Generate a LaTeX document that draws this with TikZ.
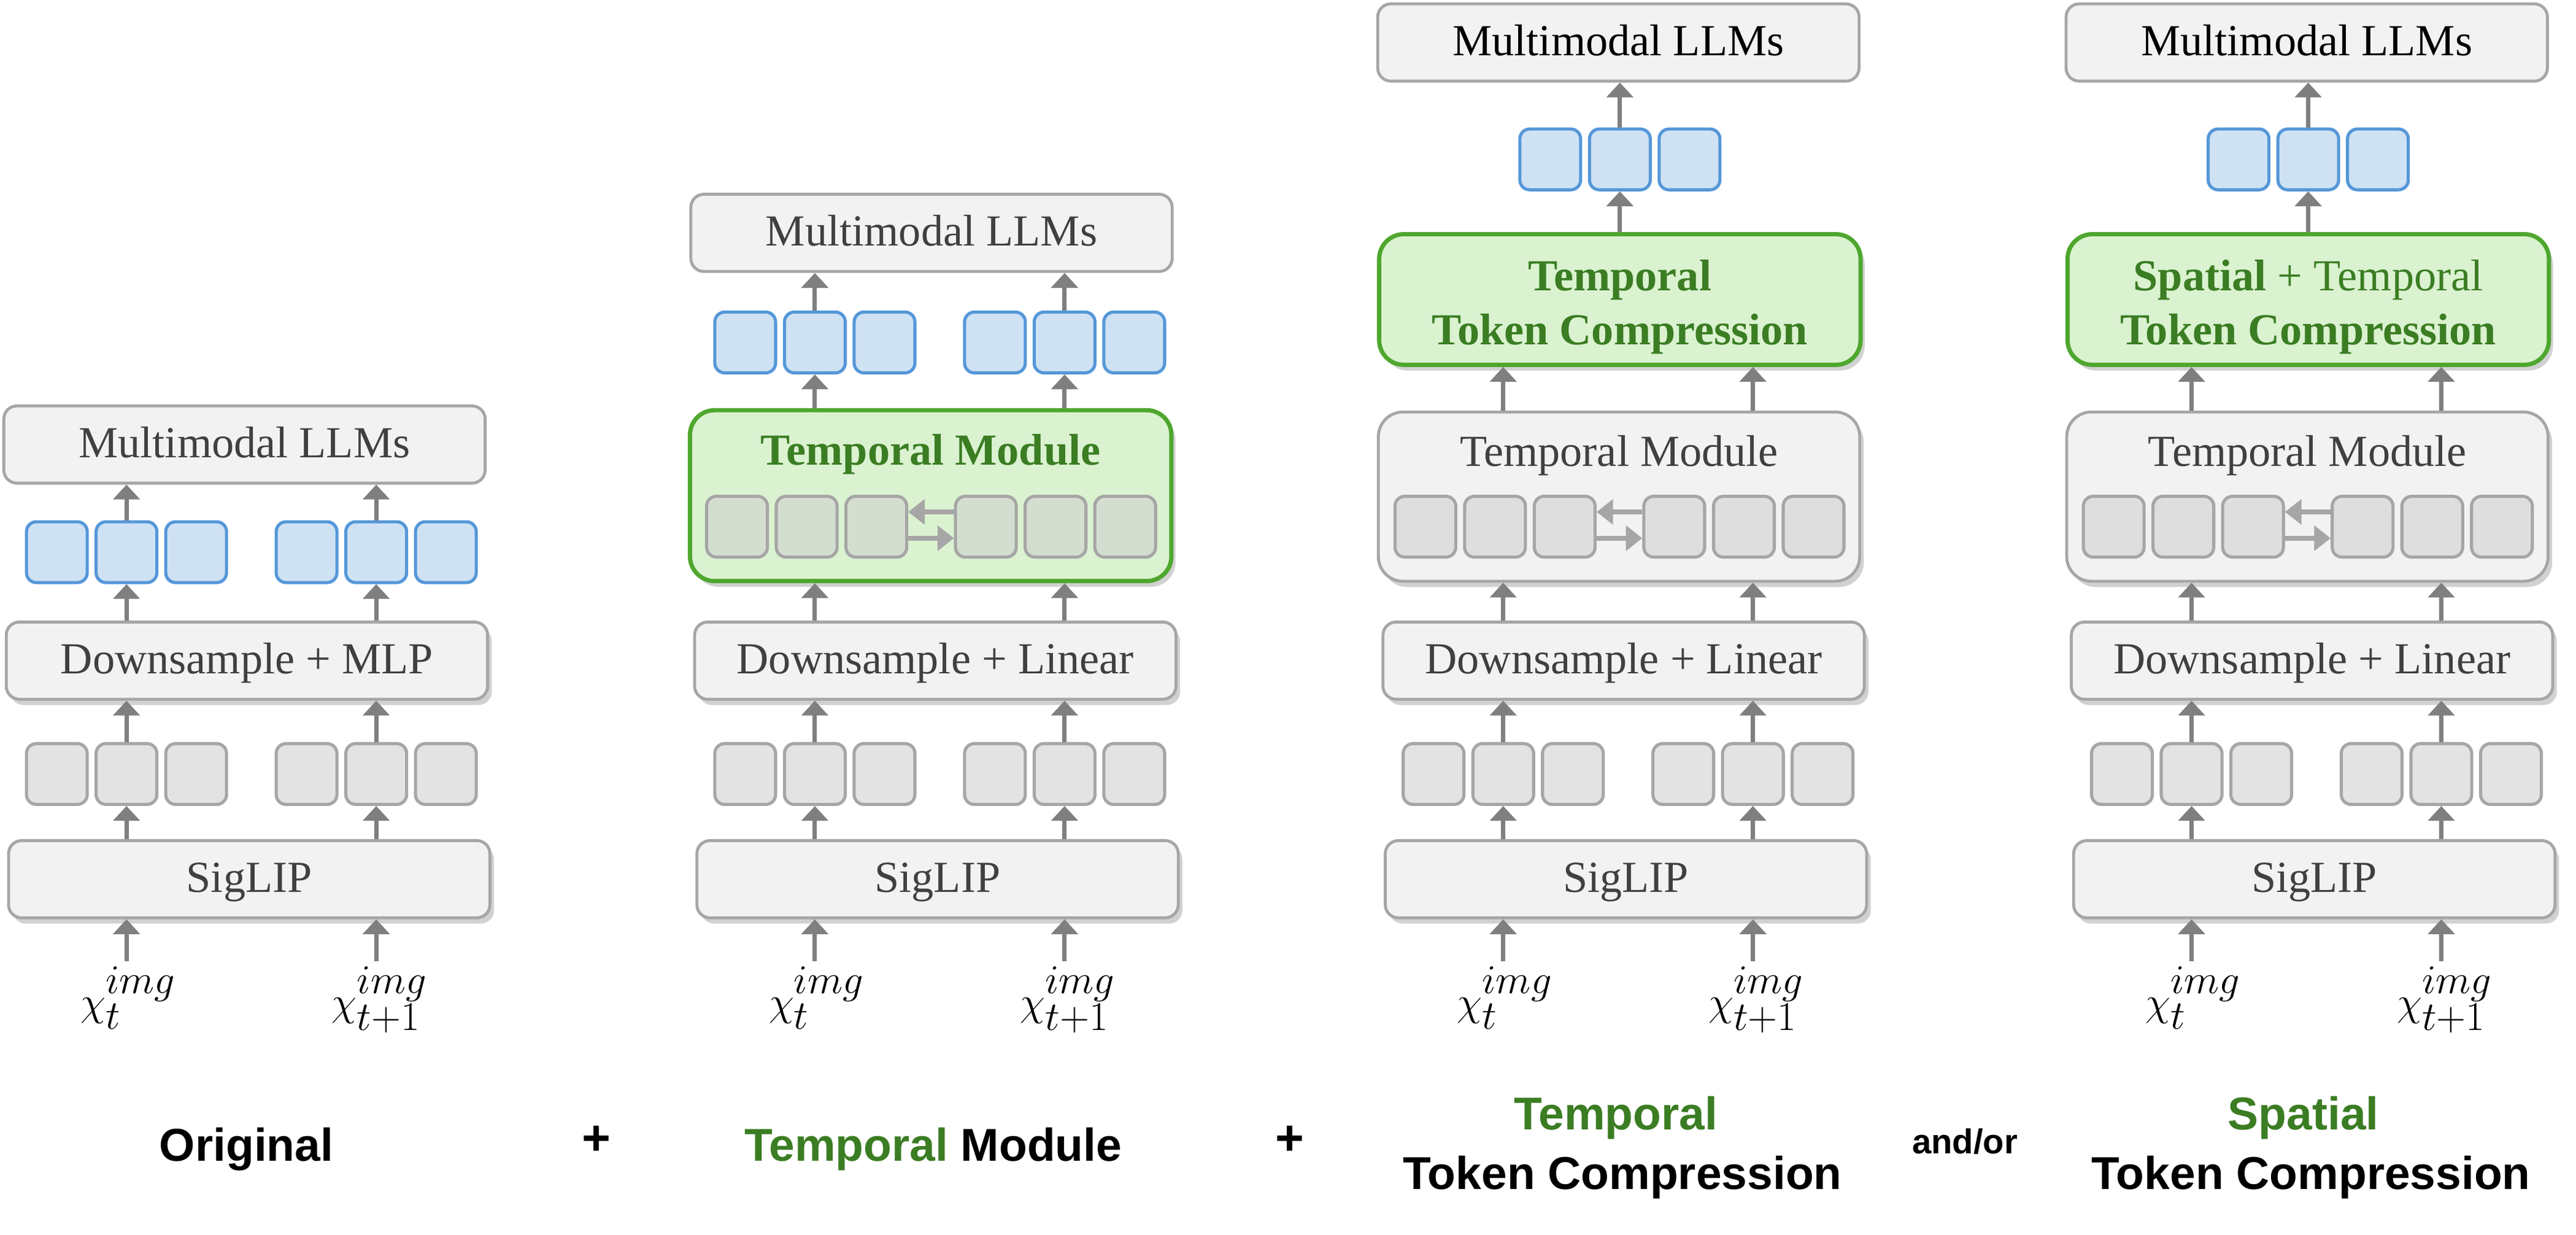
\documentclass[tikz,border=0pt]{standalone}
\usepackage{fontspec}
\setmainfont{Liberation Serif}
\newfontfamily\tagfont{Liberation Sans}
\usetikzlibrary{arrows.meta,shadows}

\definecolor{boxgray}{HTML}{F2F2F2}
\definecolor{edgegray}{HTML}{A6A6A6}
\definecolor{txtgray}{HTML}{404040}
\definecolor{arrgray}{HTML}{7F7F7F}
\definecolor{tokgray}{HTML}{D1D1D1}
\definecolor{tokblue}{HTML}{CFE2F3}
\definecolor{edgeblue}{HTML}{5597D9}
\definecolor{modgreen}{HTML}{DAF2D0}
\definecolor{edgegreen}{HTML}{4EA72E}
\definecolor{txtgreen}{HTML}{3B7D23}

\begin{document}
\begin{tikzpicture}[
  x=1pt, y=-1pt,
  block/.style={draw=edgegray, line width=1.8pt, fill=boxgray, rounded corners=8pt,
    minimum width=293pt, minimum height=47pt, inner sep=0pt, text=txtgray,
    font=\fontsize{27}{33}\selectfont, text height=19pt, text depth=3pt},
  modbox/.style={block, rounded corners=15pt},
  greenbox/.style={modbox, draw=edgegreen, fill=modgreen, line width=2.6pt},
  lift/.style={drop shadow={shadow xshift=2.5pt, shadow yshift=-3.5pt, opacity=0.3, fill=black!60}},
  tok/.style={draw=edgegray, line width=1.9pt, fill=tokgray, fill opacity=0.6,
    rounded corners=6pt, minimum width=37pt, minimum height=37pt, inner sep=0pt},
  btok/.style={tok, draw=edgeblue, fill=tokblue, fill opacity=1},
  flow/.style={draw=arrgray, line width=2.6pt, -{Triangle[width=16pt, length=9pt]}},
  xchg/.style={draw=edgegray, line width=3.2pt, -{Triangle[width=15pt, length=10pt]}},
  word/.style={anchor=base, inner sep=0pt, font=\fontsize{27}{33}\selectfont},
  wordb/.style={word, font=\fontsize{27}{33}\selectfont\bfseries},
  inp/.style={anchor=north, inner sep=0pt, font=\fontsize{36}{40}\selectfont},
  tag/.style={anchor=base, inner sep=0pt, font=\tagfont\bfseries\fontsize{28}{34}\selectfont}
]
  \useasboundingbox (0,0) rectangle (1568,751.5);

  % Column spacing
  \def\gap{419}

  % Lower part, same in all columns: SigLIP, patch tokens, projector
  \foreach \k/\proj in {1/MLP, 2/Linear, 3/Linear, 4/Linear} {
    \pgfmathsetmacro{\cx}{77+\gap*(\k-1)}
    \node[block, lift] (sig\k) at (\cx+74.7, 535) {SigLIP};
    \node[block, lift] (ds\k) at (\cx+73.3, 402) {Downsample + \proj};
    \foreach \i/\dx in {1/-42.4, 2/0, 3/42.4, 4/109.6, 5/152, 6/194.4}
      \node[tok] (g\k\i) at ({\cx+\dx}, 471) {};
    \node[inp] (xa\k) at (\cx+1, 588) {$\chi_t^{img}$};
    \node[inp] (xb\k) at (\cx+154, 588) {$\chi_{t+1}^{img}$};
    % inputs -> SigLIP -> tokens -> projector
    \draw[flow, shorten <=3pt] (xa\k.north -| g\k2) -- (g\k2 |- sig\k.south);
    \draw[flow, shorten <=3pt] (xb\k.north -| g\k5) -- (g\k5 |- sig\k.south);
    \draw[flow] (sig\k.north -| g\k2) -- (g\k2.south);
    \draw[flow] (sig\k.north -| g\k5) -- (g\k5.south);
    \draw[flow] (g\k2.north) -- (g\k2 |- ds\k.south);
    \draw[flow] (g\k5.north) -- (g\k5 |- ds\k.south);
  }

  % Column 1: original
  \foreach \i/\dx in {1/-42.4, 2/0, 3/42.4, 4/109.6, 5/152, 6/194.4}
    \node[btok] (u1\i) at ({77+\dx}, 336) {};
  \node[block] (llm1) at (148.8, 270.5) {Multimodal LLMs};
  \draw[flow] (ds1.north -| u12) -- (u12.south);
  \draw[flow] (ds1.north -| u15) -- (u15.south);
  \draw[flow] (u12.north) -- (u12 |- llm1.south);
  \draw[flow] (u15.north) -- (u15 |- llm1.south);

  % Column 2: + temporal module
  \node[greenbox, lift, minimum height=104pt] (tm2) at (566.5, 301.6) {};
  \node[wordb, text=txtgreen] (tmt2) at (566.5, 283) {Temporal Module};
  \foreach \i/\dx in {1/-47.4, 2/-5, 3/37.4, 4/104.1, 5/146.5, 6/188.9}
    \node[tok] (i2\i) at ({496+\dx}, 320.5) {};
  \draw[xchg] ([yshift=9pt]i24.west) -- ([yshift=9pt]i23.east);
  \draw[xchg] ([yshift=-7pt]i23.east) -- ([yshift=-7pt]i24.west);
  \foreach \i/\dx in {1/-42.4, 2/0, 3/42.4, 4/109.6, 5/152, 6/194.4}
    \node[btok] (u2\i) at ({496+\dx}, 208.4) {};
  \node[block] (llm2) at (567, 141.7) {Multimodal LLMs};
  \draw[flow] (ds2.north -| g22) -- (g22 |- tm2.south);
  \draw[flow] (ds2.north -| g25) -- (g25 |- tm2.south);
  \draw[flow] (tm2.north -| u22) -- (u22.south);
  \draw[flow] (tm2.north -| u25) -- (u25.south);
  \draw[flow] (u22.north) -- (u22 |- llm2.south);
  \draw[flow] (u25.north) -- (u25 |- llm2.south);

  % Columns 3 and 4: + token compression
  \foreach \k/\cx/\head in {3/915/{\textbf{Temporal}}, 4/1334/{\textbf{Spatial} + Temporal}} {
    \node[modbox, lift, minimum height=103pt] (tm\k) at (\cx+70.5, 302.2) {};
    \node[word, text=txtgray] (tmt\k) at (\cx+70.5, 283.5) {Temporal Module};
    \foreach \i/\dx in {1/-47.4, 2/-5, 3/37.4, 4/104.1, 5/146.5, 6/188.9}
      \node[tok] (i\k\i) at ({\cx+\dx}, 320.5) {};
    \draw[xchg] ([yshift=9pt]i\k4.west) -- ([yshift=9pt]i\k3.east);
    \draw[xchg] ([yshift=-7pt]i\k3.east) -- ([yshift=-7pt]i\k4.west);
    \node[greenbox, lift, minimum height=79.5pt] (tc\k) at (\cx+71, 182.25) {};
    \node[word, text=txtgreen] (tca\k) at (\cx+71, 176.7) {\head};
    \node[wordb, text=txtgreen] (tcb\k) at (\cx+71, 209.6) {Token Compression};
    \foreach \i/\dx in {1/-42.4, 2/0, 3/42.4}
      \node[btok] (u\k\i) at ({\cx+71+\dx}, 97) {};
    \node[block, text=black] (llm\k) at (\cx+70.1, 25.85) {Multimodal LLMs};
    \draw[flow] (ds\k.north -| g\k2) -- (g\k2 |- tm\k.south);
    \draw[flow] (ds\k.north -| g\k5) -- (g\k5 |- tm\k.south);
    \draw[flow] (tm\k.north -| g\k2) -- (g\k2 |- tc\k.south);
    \draw[flow] (tm\k.north -| g\k5) -- (g\k5 |- tc\k.south);
    \draw[flow] (tc\k.north -| u\k2) -- (u\k2.south);
    \draw[flow] (u\k2.north) -- (u\k2 |- llm\k.south);
  }

  % Captions under the columns
  \node[tag] (lab1) at (150, 706.4) {Original};
  \node[tag, anchor=center, font=\tagfont\bfseries\fontsize{30}{34}\selectfont] (plus1) at (363, 694) {+};
  \node[tag] (lab2) at (568, 706.4) {\textcolor{txtgreen}{Temporal} Module};
  \node[tag, anchor=center, font=\tagfont\bfseries\fontsize{30}{34}\selectfont] (plus2) at (785, 694) {+};
  \node[tag, text=txtgreen] (lab3a) at (983.5, 687.4) {Temporal};
  \node[tag] (lab3b) at (987.6, 723.8) {Token Compression};
  \node[tag, font=\tagfont\bfseries\fontsize{21}{25}\selectfont] (andor) at (1196, 702) {and/or};
  \node[tag, text=txtgreen] (lab4a) at (1402, 687.4) {Spatial};
  \node[tag] (lab4b) at (1406.7, 723.8) {Token Compression};

\end{tikzpicture}
\end{document}
